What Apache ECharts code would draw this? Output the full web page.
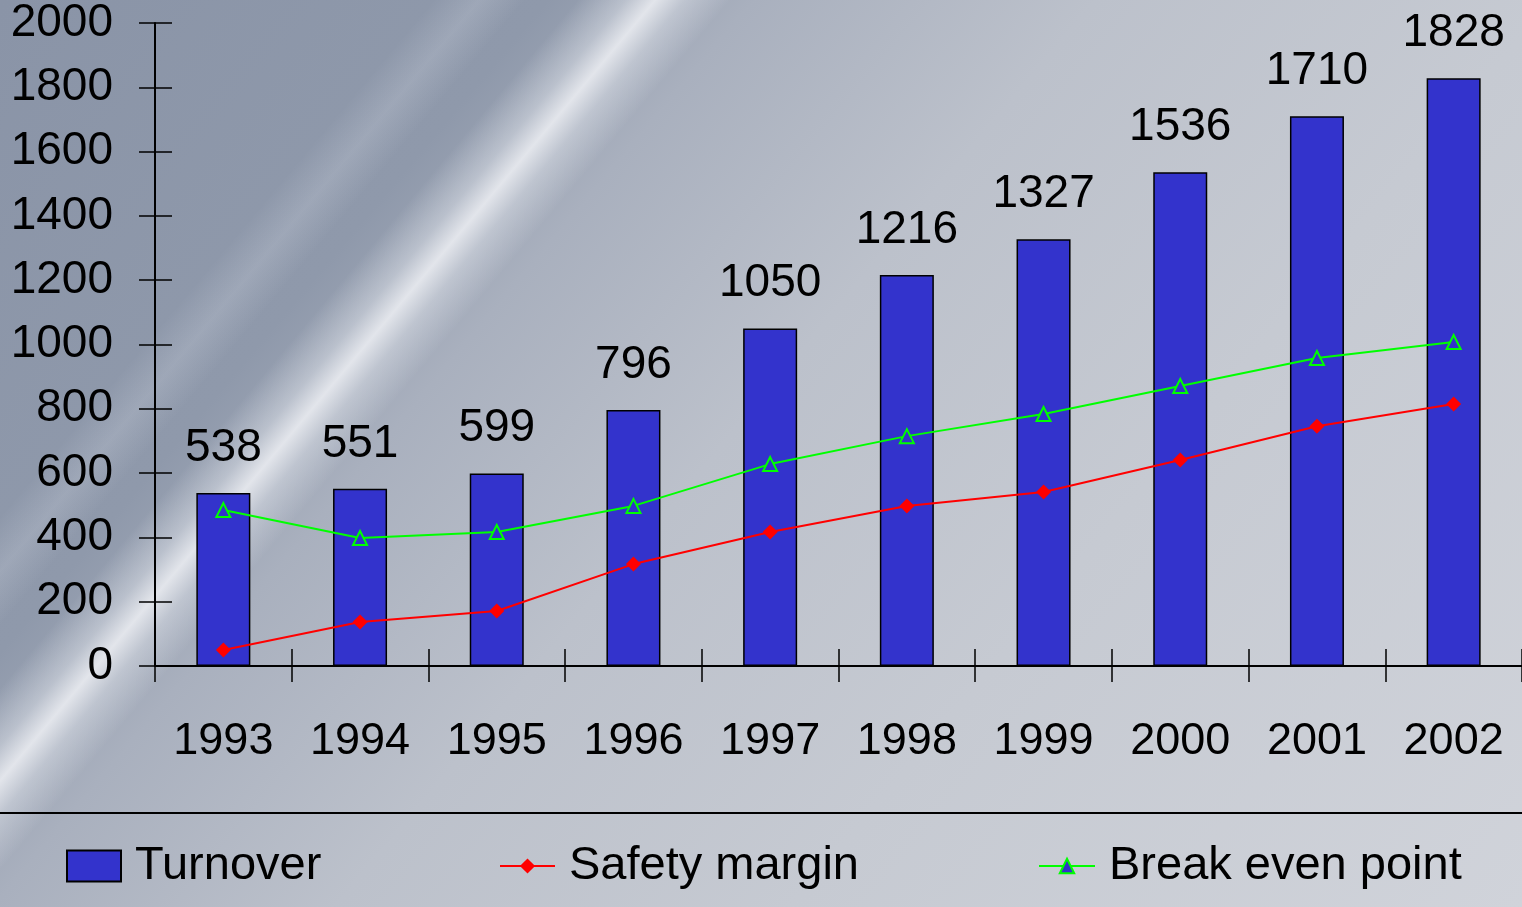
<!DOCTYPE html>
<html>
<head>
<meta charset="utf-8">
<script src="https://cdn.jsdelivr.net/npm/echarts@6/dist/echarts.min.js"></script>
<style>
  html, body { margin: 0; padding: 0; }
  body {
    width: 1522px; height: 907px; overflow: hidden;
    background:
      linear-gradient(130deg, rgba(255,255,255,0) 19%, rgba(215,220,230,0.22) 21%, rgba(255,255,255,0) 23%),
      linear-gradient(130deg, rgba(255,255,255,0) 25.3%, rgba(236,239,244,0.4) 27.4%, rgba(246,247,250,0.78) 28.7%, rgba(236,239,244,0.4) 30%, rgba(255,255,255,0) 32%),
      linear-gradient(130deg, #8a94a7 0%, #8f99ab 24%, #a9b0be 33%, #bcc1cb 48%, #c6cad2 68%, #d0d3da 100%);
  }
  #chart { width: 1522px; height: 907px; }
</style>
</head>
<body>
<div id="chart"></div>
<script>
// Yearly figures
const years = ['1993', '1994', '1995', '1996', '1997', '1998', '1999', '2000', '2001', '2002'];
const turnover = [538, 551, 599, 796, 1050, 1216, 1327, 1536, 1710, 1828];
const safetyMargin = [50, 137, 171, 317, 417, 498, 541, 641, 746, 815];
const breakEven = [485, 398, 417, 498, 628, 715, 784, 871, 958, 1008];
const yTicks = { min: 0, max: 2000, interval: 200 };

const FONT = "'Liberation Sans', Arial, sans-serif";
const BAR = '#3333CC';
const RED = '#FF0000';
const GREEN = '#00FF00';

const chart = echarts.init(document.getElementById('chart'));

const legendText = { fontFamily: FONT, fontSize: 47, color: '#000', lineHeight: 50, padding: [0, 0, 0, 9] };

chart.setOption({
  backgroundColor: 'transparent',
  animation: false,
  grid: { left: 155, top: 23, width: 1369, height: 643, containLabel: false },
  xAxis: [
    {
      type: 'category', data: years, position: 'bottom',
      axisLine: { show: true, lineStyle: { color: '#000', width: 2 } },
      axisTick: { show: true, inside: false, length: 16, lineStyle: { color: '#000', width: 1.5 } },
      axisLabel: { fontFamily: FONT, fontSize: 45, color: '#000', margin: 53 },
      splitLine: { show: false }
    },
    {
      // inner half of the crossing ticks
      type: 'category', data: years, position: 'bottom',
      axisLine: { show: false },
      axisTick: { show: true, inside: true, length: 17, lineStyle: { color: '#000', width: 1.5 } },
      axisLabel: { show: false },
      splitLine: { show: false }
    }
  ],
  yAxis: [
    {
      type: 'value', min: yTicks.min, max: yTicks.max, interval: yTicks.interval, position: 'left',
      axisLine: { show: true, lineStyle: { color: '#000', width: 2 } },
      axisTick: { show: true, inside: false, length: 16, lineStyle: { color: '#000', width: 1.5 } },
      axisLabel: { fontFamily: FONT, fontSize: 46, color: '#000', margin: 42, formatter: v => String(v) },
      splitLine: { show: false }
    },
    {
      type: 'value', min: yTicks.min, max: yTicks.max, interval: yTicks.interval, position: 'left',
      axisLine: { show: false },
      axisTick: { show: true, inside: true, length: 17, lineStyle: { color: '#000', width: 1.5 } },
      axisLabel: { show: false },
      splitLine: { show: false }
    }
  ],
  legend: [
    {
      data: [{ name: 'Turnover', icon: 'rect' }],
      left: 66, top: 841, padding: 0, itemWidth: 54, itemHeight: 31,
      textStyle: legendText
    },
    {
      data: ['Safety margin'],
      left: 499, top: 841, padding: 0, itemWidth: 55, itemHeight: 19,
      textStyle: legendText
    },
    {
      data: ['Break even point'],
      left: 1038, top: 841, padding: 0, itemWidth: 56, itemHeight: 18,
      textStyle: legendText
    }
  ],
  graphic: [
    {
      type: 'line', silent: true,
      shape: { x1: 0, y1: 813, x2: 1522, y2: 813 },
      style: { stroke: '#000', lineWidth: 2 }
    }
  ],
  series: [
    {
      name: 'Turnover', type: 'bar', data: turnover, barWidth: 54,
      xAxisIndex: 0, yAxisIndex: 0,
      itemStyle: { color: BAR, borderColor: '#000', borderWidth: 1.5 },
      label: { show: true, position: 'top', distance: 22, fontFamily: FONT, fontSize: 46, color: '#000' }
    },
    {
      name: 'Safety margin', type: 'line', data: safetyMargin,
      xAxisIndex: 0, yAxisIndex: 0,
      symbol: 'diamond', symbolSize: 15,
      lineStyle: { color: RED, width: 2 },
      itemStyle: { color: RED }
    },
    {
      name: 'Break even point', type: 'line', data: breakEven,
      xAxisIndex: 0, yAxisIndex: 0,
      symbol: 'triangle', symbolSize: 14,
      lineStyle: { color: GREEN, width: 2 },
      itemStyle: { color: BAR, borderColor: GREEN, borderWidth: 2 }
    }
  ]
});
</script>
</body>
</html>
